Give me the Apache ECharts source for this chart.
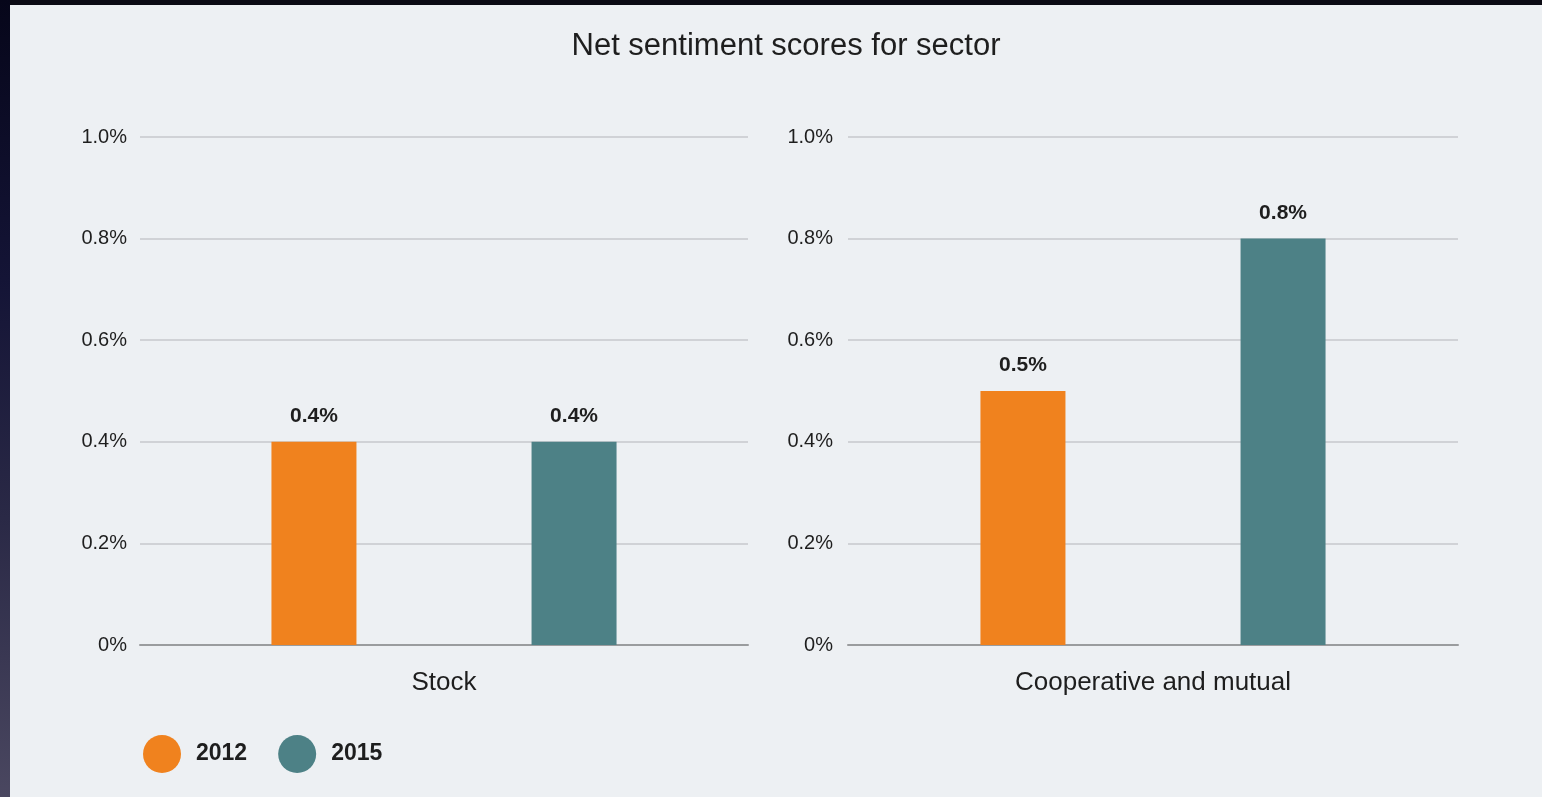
<!DOCTYPE html>
<html>
<head>
<meta charset="utf-8">
<title>Net sentiment scores for sector</title>
<script src="https://cdn.jsdelivr.net/npm/echarts@6/dist/echarts.min.js"></script>
<style>
  html, body { margin: 0; padding: 0; width: 1542px; height: 797px; overflow: hidden; background: #0b0b14; }
  #edge { position: absolute; left: 0; top: 0; width: 10px; height: 797px;
          background: linear-gradient(to bottom, #06061a 0%, #141436 35%, #2a2946 65%, #4a4760 100%); }
  #panel { position: absolute; left: 10px; top: 5px; width: 1532px; height: 792px; background: #edf0f3; }
  #chart { position: absolute; left: 0; top: 0; width: 1542px; height: 797px; }
</style>
</head>
<body>
<div id="edge"></div>
<div id="panel"></div>
<div id="chart"></div>
<script>
// Net sentiment scores (%) by sector, survey years 2012 and 2015
const years = ['2012', '2015'];
const sectors = ['Stock', 'Cooperative and mutual'];
const stockValues = [0.4, 0.4];          // 2012, 2015
const cooperativeValues = [0.5, 0.8];    // 2012, 2015
const yTicks = [0, 0.2, 0.4, 0.6, 0.8, 1.0];

const colors = ['#f0821e', '#4d8186'];
const textColor = '#1e1e1e';
const font = '"Liberation Sans", Arial, sans-serif';

const chart = echarts.init(document.getElementById('chart'), null, { renderer: 'canvas' });

function yAxisFor(gridIndex, margin) {
  return {
    type: 'value',
    gridIndex: gridIndex,
    min: yTicks[0],
    max: yTicks[yTicks.length - 1],
    interval: yTicks[1] - yTicks[0],
    axisLine: { show: false },
    axisTick: { show: false },
    axisLabel: {
      margin: margin,
      color: textColor,
      fontFamily: font,
      fontSize: 20,
      formatter: v => (v === 0 ? '0%' : v.toFixed(1) + '%')
    },
    splitLine: { lineStyle: { color: '#c6c9cc', width: 1.5 } }
  };
}

function xAxisFor(gridIndex, name) {
  return {
    type: 'category',
    gridIndex: gridIndex,
    data: [name],
    axisLine: { lineStyle: { color: '#9a9c9e', width: 2 } },
    axisTick: { show: false },
    axisLabel: { margin: 25, color: textColor, fontFamily: font, fontSize: 26 }
  };
}

function barSeries(name, gridIndex, value, color) {
  return {
    type: 'bar',
    name: name,
    xAxisIndex: gridIndex,
    yAxisIndex: gridIndex,
    data: [value],
    barWidth: 85,
    barGap: '206%',
    itemStyle: { color: color },
    label: {
      show: true,
      position: 'top',
      distance: 15,
      color: textColor,
      fontFamily: font,
      fontWeight: 'bold',
      fontSize: 21,
      formatter: p => p.value.toFixed(1) + '%'
    }
  };
}

chart.setOption({
  backgroundColor: 'transparent',
  animation: false,
  title: {
    text: 'Net sentiment scores for sector',
    left: 786,
    textAlign: 'center',
    top: 31,
    padding: 0,
    textStyle: { color: textColor, fontFamily: font, fontWeight: 'normal', fontSize: 31 }
  },
  legend: {
    data: years,
    left: 143,
    top: 735,
    padding: 0,
    icon: 'circle',
    itemWidth: 38,
    itemHeight: 38,
    itemGap: 31,
    textStyle: { color: textColor, fontFamily: font, fontWeight: 'bold', fontSize: 23, padding: [0, 0, 0, 10] }
  },
  grid: [
    { left: 140, top: 137, width: 608, height: 508 },
    { left: 848, top: 137, width: 610, height: 508 }
  ],
  xAxis: [xAxisFor(0, sectors[0]), xAxisFor(1, sectors[1])],
  yAxis: [yAxisFor(0, 13), yAxisFor(1, 15)],
  series: [
    barSeries(years[0], 0, stockValues[0], colors[0]),
    barSeries(years[1], 0, stockValues[1], colors[1]),
    barSeries(years[0], 1, cooperativeValues[0], colors[0]),
    barSeries(years[1], 1, cooperativeValues[1], colors[1])
  ]
});
</script>
</body>
</html>
